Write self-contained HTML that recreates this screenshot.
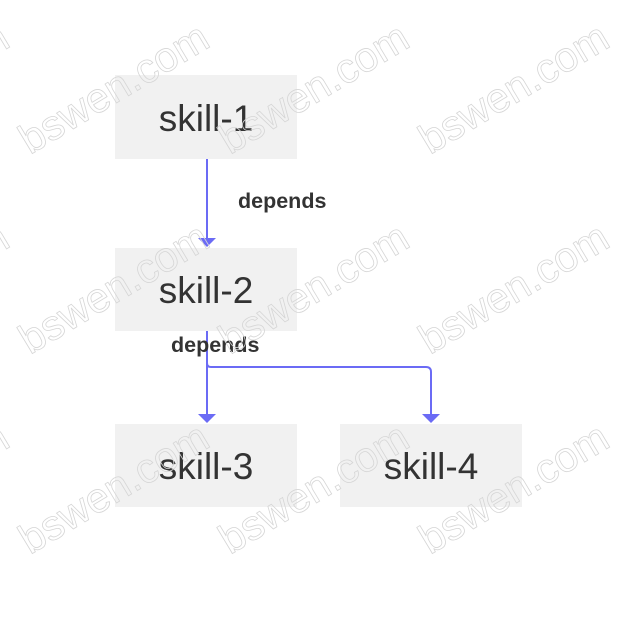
<!DOCTYPE html>
<html><head><meta charset="utf-8"><style>
html,body{margin:0;padding:0;background:#fff;}
svg{display:block;}
</style></head><body>
<svg width="620" height="634" viewBox="0 0 620 634" xmlns="http://www.w3.org/2000/svg">
<g font-family="Liberation Sans, sans-serif" font-size="37" fill="#333" text-anchor="middle">
<rect x="115" y="75" width="182" height="84" fill="#f1f1f1"/>
<text x="206" y="131">skill-1</text>
<rect x="115" y="248" width="182" height="83" fill="#f1f1f1"/>
<text x="206" y="303">skill-2</text>
<rect x="115" y="424" width="182" height="83" fill="#f1f1f1"/>
<text x="206" y="479">skill-3</text>
<rect x="340" y="424" width="182" height="83" fill="#f1f1f1"/>
<text x="431" y="479">skill-4</text>
</g>
<g stroke="#6b6bf5" stroke-width="2" fill="none">
<line x1="207" y1="159" x2="207" y2="238"/>
<line x1="207" y1="331" x2="207" y2="414"/>
<path d="M207 360 V363 Q207 367 211 367 H426 Q431 367 431 372 V414"/>
</g>
<g fill="#6b6bf5">
<polygon points="198,238 216,238 207,247"/>
<polygon points="198,414 216,414 207,423"/>
<polygon points="422,414 440,414 431,423"/>
</g>
<g font-family="Liberation Sans, sans-serif" font-weight="bold" font-size="21.5" fill="#333">
<text x="238" y="208">depends</text>
<text x="171" y="352">depends</text>
</g>
<g font-family="Liberation Sans, sans-serif" font-size="42" fill="none" stroke="#d6d6d6" stroke-width="0.8">
<text transform="translate(-170,155) rotate(-31)">bswen.com</text>
<text transform="translate(30,155) rotate(-31)">bswen.com</text>
<text transform="translate(230,155) rotate(-31)">bswen.com</text>
<text transform="translate(430,155) rotate(-31)">bswen.com</text>
<text transform="translate(-170,355) rotate(-31)">bswen.com</text>
<text transform="translate(30,355) rotate(-31)">bswen.com</text>
<text transform="translate(230,355) rotate(-31)">bswen.com</text>
<text transform="translate(430,355) rotate(-31)">bswen.com</text>
<text transform="translate(-170,555) rotate(-31)">bswen.com</text>
<text transform="translate(30,555) rotate(-31)">bswen.com</text>
<text transform="translate(230,555) rotate(-31)">bswen.com</text>
<text transform="translate(430,555) rotate(-31)">bswen.com</text>
</g>
</svg>
</body></html>
